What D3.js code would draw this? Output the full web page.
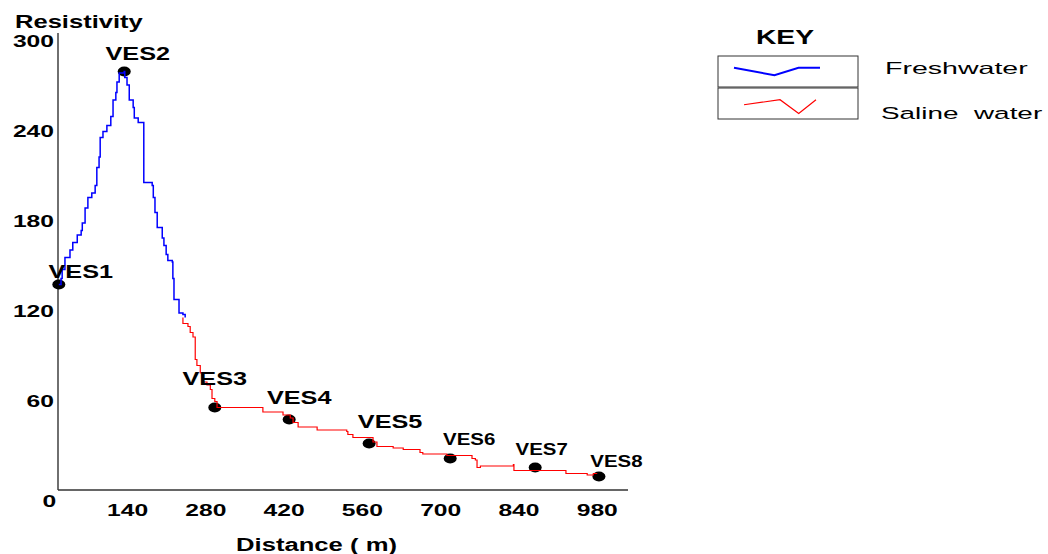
<!DOCTYPE html>
<html>
<head>
<meta charset="utf-8">
<script src="https://cdn.jsdelivr.net/npm/d3@7/dist/d3.min.js"></script>
<style>
  html, body { margin: 0; padding: 0; background: #fff; }
  svg { display: block; }
  text { font-family: "Liberation Sans", Arial, Helvetica, sans-serif; fill: #000; }
</style>
</head>
<body>
<svg id="chart" width="1048" height="554"></svg>
<script>
// ---------------- DATA ----------------
const distanceTicks = [0, 140, 280, 420, 560, 700, 840, 980];
const resistivityTicks = [60, 120, 180, 240, 300];

const vesNames = ["VES1", "VES2", "VES3", "VES4", "VES5", "VES6", "VES7", "VES8"];
const vesDistance = [17, 134, 296, 429, 572, 717, 869, 983];
const vesResistivity = [137, 279, 55, 47, 31, 21, 15, 9];

// Freshwater profile (blue)
const freshDistance = [17, 21, 23, 28, 37, 42, 50, 57, 59, 64, 69, 76, 82, 85, 89, 91, 96, 103, 110, 114, 119, 121, 125,
  134, 135, 139, 143, 150, 152, 159, 166, 169, 169, 175, 184, 186, 189, 193, 200, 202, 205, 209, 212, 220, 221, 223, 230, 232, 239, 243];
const freshResistivity = [137, 141, 147, 155, 160, 165, 170, 173, 178, 188, 195, 198, 203, 215, 222, 235, 239, 243, 249, 260, 265, 272, 278,
  279, 275, 270, 260, 255, 248, 245, 245, 222, 205, 205, 203, 195, 185, 175, 175, 168, 163, 157, 153, 152, 141, 127, 127, 118, 117, 115];

// Saline water profile (red)
const salineDistance = [239, 239, 248, 252, 257, 261, 264, 270, 275, 282, 288, 291, 296, 300, 382, 382, 407, 418, 431, 436, 445, 472,
  479, 532, 534, 543, 561, 579, 586, 615, 633, 663, 668, 711, 729, 756, 762, 765, 771, 830, 831, 923, 924, 958, 962, 973, 980];
const salineResistivity = [115, 111, 109, 105, 102, 87, 83, 78, 72, 70, 67, 61, 59, 55, 55, 52, 52, 50, 48, 45, 42, 42,
  40, 39, 37, 35, 35, 32, 29, 28, 27, 25, 24, 23, 23, 21, 20, 15, 16, 17, 13, 13, 11, 11, 10, 11, 11];

const legendLabels = ["Freshwater", "Saline  water"];
const legendColors = ["#0000ff", "#ff0000"];
// legend sample glyph shapes (unit box coordinates)
const freshSampleX = [0, 0.47, 0.75, 1];
const freshSampleY = [0.35, 0.65, 0.35, 0.35];
const salineSampleX = [0, 0.5, 0.76, 1];
const salineSampleY = [0.55, 0.35, 0.9, 0.35];

// ---------------- LAYOUT ----------------
const svg = d3.select("#chart");
const plotLeft = 58, plotTop = 33, plotBottom = 490, plotRight = 628;

const x = d3.scaleLinear().domain([0, 1035]).range([49.3, plotRight]);
const y = d3.scaleLinear().domain([0, 300]).range([plotBottom, 40]);

function sText(parent, str, px, py, size, weight, sx, anchor) {
  const g = parent.append("g").attr("transform", `translate(${px},${py}) scale(${sx},1)`);
  return g.append("text")
    .attr("font-size", size)
    .attr("font-weight", weight)
    .attr("text-anchor", anchor || "start")
    .style("white-space", "pre")
    .text(str);
}

// axes lines
svg.append("line").attr("x1", plotLeft).attr("x2", plotLeft).attr("y1", plotTop).attr("y2", plotBottom)
  .attr("stroke", "#222").attr("stroke-width", 1.3);
svg.append("line").attr("x1", plotLeft).attr("x2", plotRight).attr("y1", plotBottom).attr("y2", plotBottom)
  .attr("stroke", "#333").attr("stroke-width", 1.3);

// x tick labels
const xt = svg.append("g");
distanceTicks.forEach(v => {
  sText(xt, String(v), x(v), v === 0 ? 507 : 516, 17, "bold", 1.45, "middle");
});
// y tick labels
const yt = svg.append("g");
resistivityTicks.forEach(v => {
  sText(yt, String(v), 54, y(v) + 7, 17, "bold", 1.45, "end");
});

// axis titles
sText(svg, "Resistivity", 15, 28, 18, "bold", 1.42, "start");
sText(svg, "Distance ( m)", 316.5, 551, 18.5, "bold", 1.386, "middle");

// markers
const ves = vesNames.map((n, i) => ({ name: n, d: vesDistance[i], r: vesResistivity[i] }));
svg.append("g").selectAll("ellipse").data(ves).join("ellipse")
  .attr("cx", d => x(d.d)).attr("cy", d => y(d.r))
  .attr("rx", 6.5).attr("ry", 5).attr("fill", "#000");

// profile lines
const line = d3.line().x(d => x(d[0])).y(d => y(d[1])).curve(d3.curveStepAfter);
const fresh = freshDistance.map((d, i) => [d, freshResistivity[i]]);
const saline = salineDistance.map((d, i) => [d, salineResistivity[i]]);
svg.append("path").attr("d", line(fresh)).attr("fill", "none")
  .attr("stroke", legendColors[0]).attr("stroke-width", 1.5);
svg.append("path").attr("d", line(saline)).attr("fill", "none")
  .attr("stroke", legendColors[1]).attr("stroke-width", 1.2);

// VES labels
const labelDx = [22, 13.5, 0, 10, 21, 19, 6.5, 17.5];
const labelDy = [-7, -12, -23, -16, -16, -14, -13, -10];
const labelSize = [19, 19, 19, 19, 19, 16.5, 16.5, 16.5];
const labelSx = [1.33, 1.33, 1.33, 1.33, 1.33, 1.24, 1.24, 1.24];
const lg = svg.append("g");
ves.forEach((d, i) => {
  sText(lg, d.name, x(d.d) + labelDx[i], y(d.r) + labelDy[i], labelSize[i], "bold", labelSx[i], "middle");
});

// legend
sText(svg, "KEY", 785, 44, 19.5, "bold", 1.45, "middle");
const boxX = 718, boxW = 140, boxH = 31, boxY = [56, 88];
const samples = [
  { xs: freshSampleX, ys: freshSampleY, x0: 734, x1: 820, w: 2 },
  { xs: salineSampleX, ys: salineSampleY, x0: 744, x1: 816, w: 1.2 }
];
boxY.forEach((by, i) => {
  svg.append("rect").attr("x", boxX).attr("y", by).attr("width", boxW).attr("height", boxH)
    .attr("fill", "none").attr("stroke", "#333").attr("stroke-width", 1);
  const s = samples[i];
  const sxScale = d3.scaleLinear().domain([0, 1]).range([s.x0, s.x1]);
  const syScale = d3.scaleLinear().domain([0, 1]).range([by + 3, by + 28]);
  const pts = s.xs.map((v, k) => [sxScale(v), syScale(s.ys[k])]);
  svg.append("path").attr("d", d3.line()(pts)).attr("fill", "none")
    .attr("stroke", legendColors[i]).attr("stroke-width", s.w);
});
sText(svg, legendLabels[0], 885, 74, 16.5, "normal", 1.73, "start");
sText(svg, legendLabels[1], 881, 119, 16.5, "normal", 1.69, "start");
</script>
</body>
</html>
